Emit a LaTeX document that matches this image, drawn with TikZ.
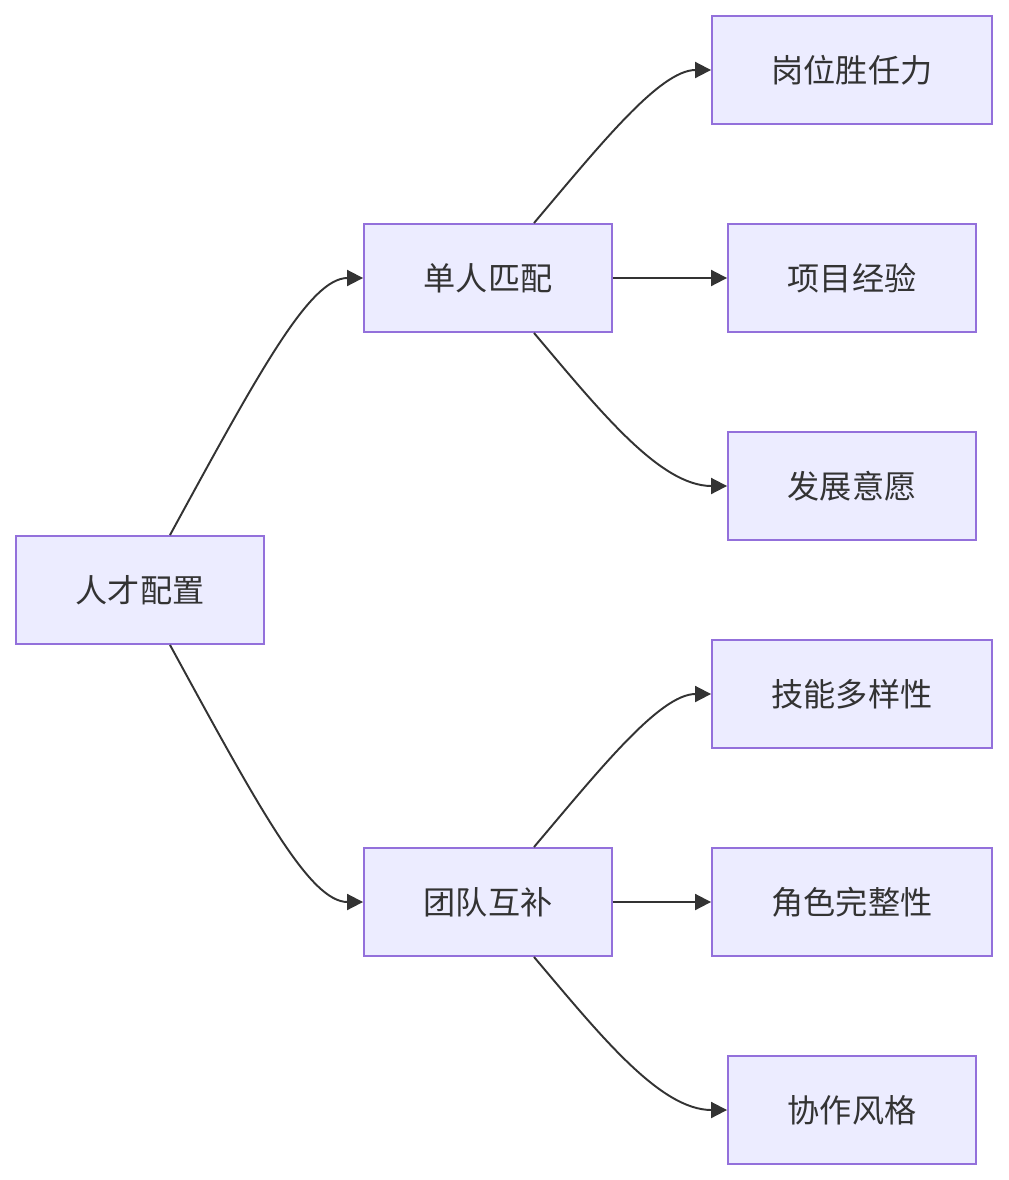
\documentclass[tikz,border=0pt]{standalone}
\usepackage{fontspec}
\setmainfont{Noto Sans CJK SC}
\usepackage{tikz}
\usetikzlibrary{positioning,arrows.meta}
\usepackage{xcolor}
\definecolor{boxfill}{HTML}{ECECFF}
\definecolor{boxline}{HTML}{9370DB}
\definecolor{inkgray}{HTML}{333333}

\begin{document}
\begin{tikzpicture}[
  x=0.02cm, y=-0.02cm,
  >={Triangle[length=0.32cm,width=0.32cm]},
  box/.style={draw=boxline, fill=boxfill, line width=1.1pt, minimum width=4.96cm,
    minimum height=2.16cm, inner sep=0pt, text=inkgray,
    font=\fontsize{18.3}{21}\selectfont},
  widebox/.style={box, minimum width=5.6cm},
  link/.style={->, draw=inkgray, line width=1.1pt}
]
  \useasboundingbox (0,0) rectangle (1008,1180);

  \node[box] (talent) at (140,590) {人才配置};
  \node[box] (single) at (488,278) {单人匹配};
  \node[box] (team) at (488,902) {团队互补};

  \node[widebox] (post) at (852,70) {岗位胜任力};
  \node[box] (proj) at (852,278) {项目经验};
  \node[box] (growth) at (852,486) {发展意愿};
  \node[widebox] (skill) at (852,694) {技能多样性};
  \node[widebox] (role) at (852,902) {角色完整性};
  \node[box] (style) at (852,1110) {协作风格};

  \draw[link] ([xshift=0.6cm]talent.north) .. controls (260,370) and (310,278) .. (single.west);
  \draw[link] ([xshift=0.6cm]talent.south) .. controls (260,810) and (310,902) .. (team.west);

  \draw[link] ([xshift=0.92cm]single.north) .. controls (600,145) and (660,70) .. (post.west);
  \draw[link] (single.east) -- (proj.west);
  \draw[link] ([xshift=0.92cm]single.south) .. controls (600,411) and (660,486) .. (growth.west);

  \draw[link] ([xshift=0.92cm]team.north) .. controls (600,769) and (660,694) .. (skill.west);
  \draw[link] (team.east) -- (role.west);
  \draw[link] ([xshift=0.92cm]team.south) .. controls (600,1035) and (660,1110) .. (style.west);
\end{tikzpicture}
\end{document}
